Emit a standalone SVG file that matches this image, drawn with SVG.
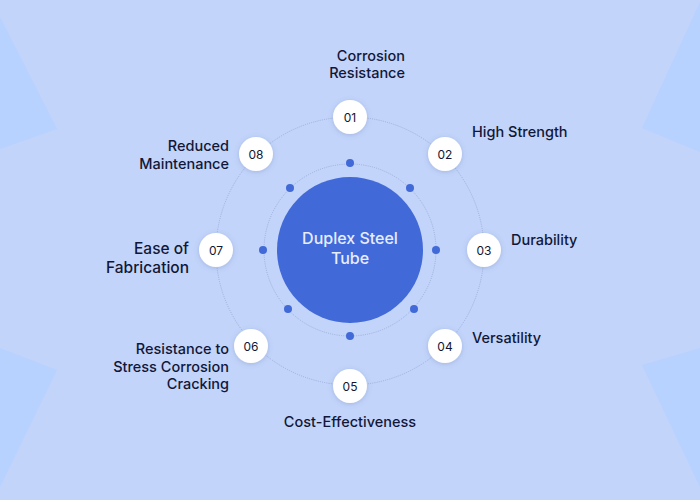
<svg xmlns="http://www.w3.org/2000/svg" width="700" height="500" viewBox="0 0 700 500">
<defs>
<style>
.bg{fill:#c2d4fa}
.deco{fill:#b7d2ff}
.ring{fill:none;stroke:#94a6cf;stroke-width:0.8;stroke-dasharray:1 1.2}
.dot{fill:#4169d8}
.node{fill:#ffffff;filter:url(#sh)}
.num{font-family:Inter,"Liberation Sans",sans-serif;font-size:12px;fill:#111633;text-anchor:middle;dominant-baseline:central}
.lbl{font-family:Inter,"Liberation Sans",sans-serif;font-size:14.5px;fill:#121737;font-weight:500}
.big{font-size:15.5px}
.ctr{font-family:Inter,"Liberation Sans",sans-serif;font-size:16px;fill:#e6edff;text-anchor:middle;font-weight:500}
</style>
<filter id="sh" x="-50%" y="-50%" width="200%" height="200%">
<feDropShadow dx="0" dy="1" stdDeviation="2.5" flood-color="#5a6fa8" flood-opacity="0.3"/>
</filter>
</defs>
<rect class="bg" x="0" y="0" width="700" height="500"/>
<polygon class="deco" points="0,17 57,129 0,149"/>
<polygon class="deco" points="0,348 57,370 0,487"/>
<polygon class="deco" points="700,2 642,128 700,152"/>
<polygon class="deco" points="700,348 642,365 700,487"/>
<g id="connectors">
<circle class="ring" cx="350" cy="251" r="134"/>
<circle class="ring" cx="350" cy="250" r="86"/>
</g>
<g id="center">
<circle cx="350" cy="250" r="73" fill="#4169d8"/>
<text class="ctr" x="350" y="244">Duplex Steel</text>
<text class="ctr" x="350" y="264">Tube</text>
</g>
<g id="dots">
<circle class="dot" cx="350" cy="163" r="4"/>
<circle class="dot" cx="410" cy="188" r="4"/>
<circle class="dot" cx="436" cy="250" r="4"/>
<circle class="dot" cx="414" cy="309" r="4"/>
<circle class="dot" cx="350" cy="336" r="4"/>
<circle class="dot" cx="288" cy="309" r="4"/>
<circle class="dot" cx="263" cy="250" r="4"/>
<circle class="dot" cx="290" cy="188" r="4"/>
</g>
<g id="n01">
<circle class="node" cx="350" cy="117" r="17"/>
<text class="num" x="350" y="117">01</text>
<text class="lbl" x="405" y="61" text-anchor="end">Corrosion</text>
<text class="lbl" x="405" y="78" text-anchor="end">Resistance</text>
</g>
<g id="n02">
<circle class="node" cx="445" cy="154" r="17"/>
<text class="num" x="445" y="154">02</text>
<text class="lbl" x="472" y="137">High Strength</text>
</g>
<g id="n03">
<circle class="node" cx="484" cy="250" r="17"/>
<text class="num" x="484" y="250">03</text>
<text class="lbl" x="511" y="245">Durability</text>
</g>
<g id="n04">
<circle class="node" cx="445" cy="346" r="17"/>
<text class="num" x="445" y="346">04</text>
<text class="lbl" x="472" y="343">Versatility</text>
</g>
<g id="n05">
<circle class="node" cx="350" cy="386" r="17"/>
<text class="num" x="350" y="386">05</text>
<text class="lbl" x="350" y="427" text-anchor="middle">Cost-Effectiveness</text>
</g>
<g id="n06">
<circle class="node" cx="251" cy="346" r="17"/>
<text class="num" x="251" y="346">06</text>
<text class="lbl" x="229" y="354" text-anchor="end">Resistance to</text>
<text class="lbl" x="229" y="372" text-anchor="end">Stress Corrosion</text>
<text class="lbl" x="229" y="389" text-anchor="end">Cracking</text>
</g>
<g id="n07">
<circle class="node" cx="216" cy="250" r="17"/>
<text class="num" x="216" y="250">07</text>
<text class="lbl big" x="189" y="254" text-anchor="end">Ease of</text>
<text class="lbl big" x="189" y="273" text-anchor="end">Fabrication</text>
</g>
<g id="n08">
<circle class="node" cx="256" cy="154" r="17"/>
<text class="num" x="256" y="154">08</text>
<text class="lbl" x="229" y="151" text-anchor="end">Reduced</text>
<text class="lbl" x="229" y="169" text-anchor="end">Maintenance</text>
</g>
</svg>
